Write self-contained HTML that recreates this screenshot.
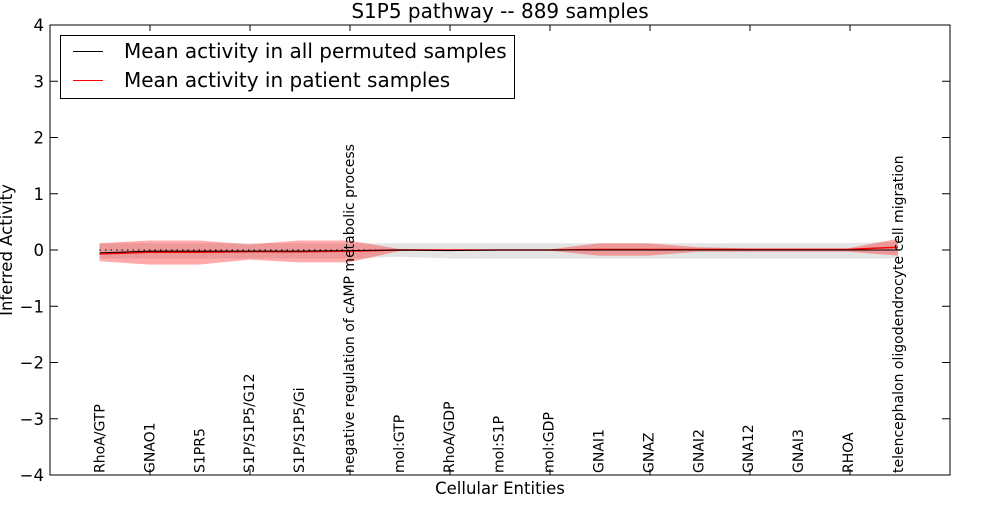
<!DOCTYPE html>
<html><head><meta charset="utf-8"><style>
body{margin:0;background:#fff;}
svg text{font-family:"DejaVu Sans","Liberation Sans",sans-serif;}
</style></head><body>
<svg id="chart" width="1000" height="500" xmlns="http://www.w3.org/2000/svg">
<rect width="1000" height="500" fill="#fff"/>
<g id="bands"></g>
<g id="lines"></g>
<rect x="50" y="25" width="900" height="450" fill="none" stroke="#000" stroke-width="1"/>
<g id="axes"></g>
<g id="labels"></g>
<text x="500" y="18" font-size="20" text-anchor="middle">S1P5 pathway -- 889 samples</text>
<text x="500" y="494" font-size="16.5" text-anchor="middle">Cellular Entities</text>
<text transform="translate(12,250) rotate(-90)" font-size="16.5" text-anchor="middle">Inferred Activity</text>
<g>
<rect x="60.5" y="35.5" width="454" height="63" fill="#fff" stroke="#000"/>
<g><line x1="73" y1="51.5" x2="103" y2="51.5" stroke="#000"/><text x="124" y="58" font-size="20">Mean activity in all permuted samples</text></g>
<g><line x1="73" y1="80.5" x2="103" y2="80.5" stroke="#f00"/><text x="124" y="87" font-size="20">Mean activity in patient samples</text></g>
</g>
</svg>
<script>
const categories=["RhoA/GTP","GNAO1","S1PR5","S1P/S1P5/G12","S1P/S1P5/Gi","negative regulation of cAMP metabolic process","mol:GTP","RhoA/GDP","mol:S1P","mol:GDP","GNAI1","GNAZ","GNAI2","GNA12","GNAI3","RHOA","telencephalon oligodendrocyte cell migration"];
const patientMean=[-0.07,-0.04,-0.04,-0.03,-0.03,-0.02,0,0,0,0,0.01,0.01,0.01,0.01,0.01,0.01,0.05];
const patientUpper=[0.12,0.17,0.17,0.1,0.17,0.17,0.02,0.01,0.01,0.01,0.12,0.12,0.05,0.03,0.03,0.03,0.2];
const patientLower=[-0.2,-0.26,-0.26,-0.17,-0.22,-0.22,-0.02,-0.01,-0.01,-0.01,-0.1,-0.1,-0.03,-0.03,-0.03,-0.03,-0.1];
const permMean=[-0.05,-0.02,-0.02,-0.02,-0.02,-0.01,0,-0.01,0,0,0,0,0,0,0,0,0];
const permUpper=[0.12,0.12,0.12,0.12,0.12,0.12,0.12,0.12,0.12,0.12,0.12,0.12,0.12,0.12,0.12,0.12,0.15];
const permLower=[-0.15,-0.15,-0.15,-0.15,-0.15,-0.15,-0.12,-0.15,-0.15,-0.15,-0.15,-0.15,-0.15,-0.15,-0.15,-0.15,-0.15];
const yTicks=[-4,-3,-2,-1,0,1,2,3,4];
const xS=i=>99.5+49.9*i;
const yS=v=>250-v*56.25;
const NS="http://www.w3.org/2000/svg";
function mk(t,a,p){const e=document.createElementNS(NS,t);for(const k in a)e.setAttribute(k,a[k]);p.appendChild(e);return e;}
const bands=document.getElementById('bands'),lines=document.getElementById('lines'),axes=document.getElementById('axes'),labels=document.getElementById('labels');
function band(up,lo,fill,op){let d=up.map((v,i)=>(i?'L':'M')+xS(i)+','+yS(v)).join('');for(let i=lo.length-1;i>=0;i--)d+='L'+xS(i)+','+yS(lo[i]);d+='Z';return mk('path',{d:d,fill:fill,'fill-opacity':op},bands);}
let b1=band(permUpper,permLower,'#bbb',0.4);


let b2=band(patientUpper,patientLower,'#f00',0.33);


function line(arr,col,w,dash){const pts=arr.map((v,i)=>xS(i)+','+yS(v)).join(' ');const a={points:pts,fill:'none',stroke:col,'stroke-width':w};if(dash)a['stroke-dasharray']=dash;return mk('polyline',a,lines);}
let z=mk('line',{x1:xS(0),x2:xS(16),y1:yS(0),y2:yS(0),stroke:'#000','stroke-dasharray':'1.5,4'},lines);


let l1=line(patientMean,'#f00',1.5);


let l2=line(permMean,'#000',1);


yTicks.forEach(v=>{const y=yS(v);
mk('line',{x1:50,x2:58,y1:y,y2:y,stroke:'#000'},axes);
mk('line',{x1:942,x2:950,y1:y,y2:y,stroke:'#000'},axes);
const t=mk('text',{x:44,y:y+6,'font-size':16.5,'text-anchor':'end'},axes);
t.textContent=(v<0?'\u2212':'')+Math.abs(v);

});
for(let x=150;x<=850;x+=100){mk('line',{x1:x,x2:x,y1:25,y2:31,stroke:'#000'},axes);mk('line',{x1:x,x2:x,y1:469,y2:475,stroke:'#000'},axes);}
categories.forEach((c,i)=>{const x=xS(i)+5;const t=mk('text',{transform:'translate('+x+',473) rotate(-90)','font-size':14},labels);
t.textContent=c;

});
</script>
</body></html>
